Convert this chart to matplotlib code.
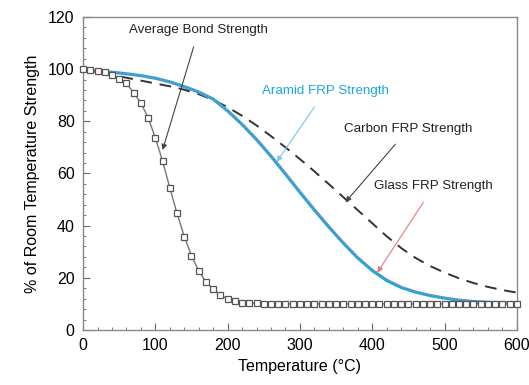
import matplotlib.pyplot as plt
from matplotlib.ticker import MultipleLocator

plt.rcParams["font.family"] = ["Liberation Sans", "DejaVu Sans"]

# average bond strength, read every 10 C
bond_t = list(range(0, 610, 10))
bond_pct = [100, 99.6, 99.4, 98.7, 97.7, 96.2, 94.5, 91, 87, 81.4,
            73.7, 64.7, 54.5, 44.7, 35.8, 28.5, 22.6, 18.5, 15.6, 13.4,
            11.9, 11.1, 10.5, 10.3, 10.2] + [10.0] * 36

# FRP curves, read every 20 C
frp_t = list(range(0, 620, 20))
aramid = [99.5, 99.3, 98.8, 98.2, 97.5, 96.5, 95.1, 93.3, 91.2, 88.5,
          84.0, 78.8, 73.0, 66.6, 59.8, 52.8, 46.0, 39.5, 33.3, 27.6,
          22.8, 19.0, 16.3, 14.5, 13.2, 12.2, 11.4, 10.9, 10.6, 10.4, 10.3]
glass = [99.5, 99.3, 98.8, 98.2, 97.5, 96.5, 95.1, 93.3, 91.2, 88.5,
         84.0, 78.8, 73.0, 66.8, 60.1, 53.2, 46.5, 40.0, 33.8, 28.1,
         23.3, 19.5, 16.7, 14.8, 13.5, 12.4, 11.6, 11.0, 10.6, 10.4, 10.3]
carbon = [99.5, 98.7, 97.7, 96.7, 95.6, 94.5, 93.4, 92.1, 90.4, 88.2,
          85.4, 82.1, 78.4, 74.3, 70.0, 65.5, 60.8, 55.9, 50.9, 45.9,
          40.9, 35.9, 31.4, 27.6, 24.5, 22.0, 19.8, 18.0, 16.5, 15.3, 14.3]

fig = plt.figure(figsize=(5.29, 3.85), dpi=100)
ax = fig.add_axes([0.157, 0.143, 0.820, 0.813])

ax.plot(bond_t, bond_pct, color="#777777", lw=1.0, marker="s", ms=4.5,
        mfc="white", mec="#555555", mew=0.9, clip_on=False, zorder=3)
ax.plot(frp_t, carbon, color="#333333", lw=1.4, dashes=(6, 4), zorder=2)
ax.plot(frp_t, aramid, color="#1ba6e1", lw=2.3, zorder=2)
ax.plot(frp_t, glass, color="#e87878", lw=1.0, ls=":", zorder=2)

ax.set_xlim(0, 600)
ax.set_ylim(0, 120)
ax.xaxis.set_major_locator(MultipleLocator(100))
ax.xaxis.set_minor_locator(MultipleLocator(20))
ax.yaxis.set_major_locator(MultipleLocator(20))
ax.yaxis.set_minor_locator(MultipleLocator(4))
ax.tick_params(which="both", direction="in", top=False, right=False,
               color="#666666", labelsize=11.5, pad=6)
ax.tick_params(which="major", length=5)
ax.tick_params(which="minor", length=2.5)
for s in ax.spines.values():
    s.set_color("#888888")
    s.set_linewidth(1.0)

ax.set_xlabel("Temperature (\u00b0C)", fontsize=11.5, labelpad=4)
ax.set_ylabel("% of Room Temperature Strength", fontsize=11.5, labelpad=6)

def note(text, xy, xytext, color, arrow_color, ha="center"):
    ax.annotate(text, xy=xy, xytext=xytext, fontsize=9.6, color=color,
                ha=ha, va="center",
                arrowprops=dict(arrowstyle="-|>", color=arrow_color, lw=0.8,
                                mutation_scale=8, shrinkA=6, shrinkB=0))

note("Average Bond Strength", (110, 69), (160, 115), "#222222", "#444444")
note("Aramid FRP Strength", (268, 64.5), (335, 91.5), "#1ba6e1", "#7cc7ea")
note("Carbon FRP Strength", (363, 49), (450, 77), "#222222", "#444444")
note("Glass FRP Strength", (407, 22), (485, 55), "#222222", "#e87878")

fig.savefig("out.png", dpi=100)
